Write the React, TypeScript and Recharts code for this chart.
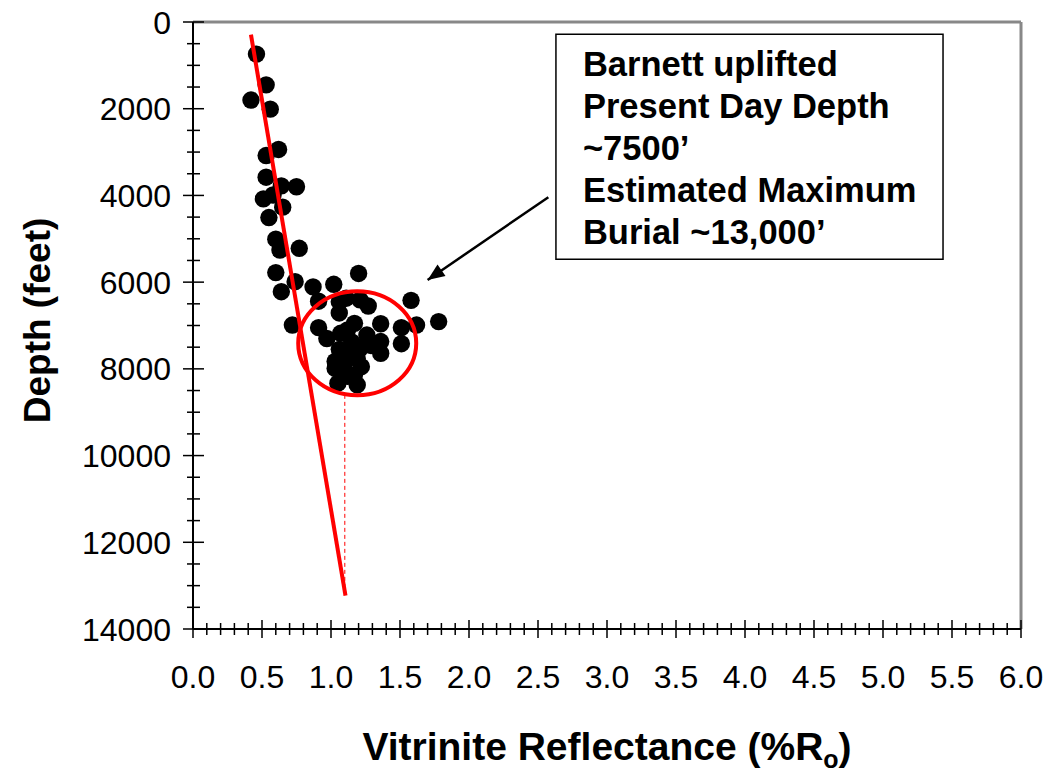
import React from 'react'
import {
  ScatterChart,
  Scatter,
  XAxis,
  YAxis,
  ReferenceLine,
  ReferenceArea,
} from 'recharts'

// vitrinite reflectance (%Ro) vs depth (ft)
const shallowSamples = [
  { ro: 0.46, depth: 740 },
  { ro: 0.53, depth: 1450 },
  { ro: 0.42, depth: 1800 },
  { ro: 0.56, depth: 2010 },
  { ro: 0.62, depth: 2940 },
  { ro: 0.53, depth: 3080 },
  { ro: 0.53, depth: 3580 },
  { ro: 0.64, depth: 3780 },
  { ro: 0.75, depth: 3800 },
  { ro: 0.58, depth: 3990 },
  { ro: 0.51, depth: 4080 },
  { ro: 0.65, depth: 4270 },
  { ro: 0.55, depth: 4510 },
  { ro: 0.6, depth: 5010 },
  { ro: 0.63, depth: 5260 },
  { ro: 0.77, depth: 5220 },
  { ro: 0.6, depth: 5780 },
  { ro: 0.74, depth: 5990 },
  { ro: 0.64, depth: 6220 },
  { ro: 0.72, depth: 6990 },
]

const clusterSamples = [
  { ro: 1.2, depth: 5800 },
  { ro: 0.87, depth: 6110 },
  { ro: 1.02, depth: 6050 },
  { ro: 0.91, depth: 6440 },
  { ro: 1.06, depth: 6450 },
  { ro: 1.21, depth: 6410 },
  { ro: 1.58, depth: 6420 },
  { ro: 1.27, depth: 6550 },
  { ro: 1.11, depth: 6370 },
  { ro: 1.06, depth: 6710 },
  { ro: 1.78, depth: 6910 },
  { ro: 0.91, depth: 7050 },
  { ro: 1.17, depth: 6950 },
  { ro: 1.12, depth: 7100 },
  { ro: 1.36, depth: 6960 },
  { ro: 1.51, depth: 7050 },
  { ro: 1.62, depth: 6990 },
  { ro: 0.97, depth: 7300 },
  { ro: 1.07, depth: 7180 },
  { ro: 1.15, depth: 7380 },
  { ro: 1.26, depth: 7220 },
  { ro: 1.29, depth: 7460 },
  { ro: 1.36, depth: 7370 },
  { ro: 1.51, depth: 7420 },
  { ro: 1.06, depth: 7550 },
  { ro: 1.21, depth: 7530 },
  { ro: 1.13, depth: 7660 },
  { ro: 1.36, depth: 7640 },
  { ro: 1.03, depth: 7830 },
  { ro: 1.19, depth: 7760 },
  { ro: 1.1, depth: 7860 },
  { ro: 1.22, depth: 7950 },
  { ro: 1.09, depth: 7990 },
  { ro: 1.03, depth: 7990 },
  { ro: 1.12, depth: 8170 },
  { ro: 1.17, depth: 8140 },
  { ro: 1.05, depth: 8330 },
  { ro: 1.19, depth: 8370 },
]

// hand-drawn trend line and annotations
const trendLine = [
  { ro: 0.42, depth: 290 },
  { ro: 1.105, depth: 13230 },
]
const maxBurialDrop = [
  { ro: 1.1, depth: 8600 },
  { ro: 1.1, depth: 13100 },
]
const circleCenter = [{ ro: 1.19, depth: 7410 }]
const arrowPoints = [
  { ro: 2.575, depth: 4040, head: false },
  { ro: 1.7, depth: 5950, head: true },
]
const noteBox = { ro1: 2.63, ro2: 5.435, depth1: 280, depth2: 5470 }
const noteLines = [
  'Barnett uplifted',
  'Present Day Depth',
  '~7500’',
  'Estimated Maximum',
  'Burial ~13,000’',
]

const yTicks = [0, 2000, 4000, 6000, 8000, 10000, 12000, 14000]
const xTicks = [0, 0.5, 1, 1.5, 2, 2.5, 3, 3.5, 4, 4.5, 5, 5.5, 6]
const yMinorStep = 500
const xMinorStep = 0.1

const yAllTicks = Array.from({ length: 14000 / yMinorStep + 1 }, (_, i) => i * yMinorStep)
const xAllTicks = Array.from({ length: 61 }, (_, i) => Number((i * xMinorStep).toFixed(1)))

const FONT = '"Liberation Sans", Arial, sans-serif'
const Y_MARGIN = 22
const X_MARGIN = 59

const YTick = (props: any) => {
  const { x, y, payload } = props
  const v = payload.value
  const major = yTicks.includes(v)
  const ax = x + Y_MARGIN
  return (
    <g>
      <line
        x1={ax - (major ? 10 : 6)}
        x2={ax + (major ? 11 : 7)}
        y1={y}
        y2={y}
        stroke="#000"
        strokeWidth={1.5}
      />
      {major && (
        <text x={x} y={y} dy="0.36em" textAnchor="end" fontSize={32} fontFamily={FONT} fill="#000">
          {v}
        </text>
      )}
    </g>
  )
}

const XTick = (props: any) => {
  const { x, y, payload } = props
  const v = payload.value
  const major = xTicks.some(t => Math.abs(t - v) < 1e-6)
  const ay = y - X_MARGIN
  return (
    <g>
      <line
        x1={x}
        x2={x}
        y1={ay - (major ? 9 : 6)}
        y2={ay + (major ? 9 : 6)}
        stroke="#000"
        strokeWidth={1.5}
      />
      {major && (
        <text x={x} y={y} textAnchor="middle" fontSize={32} fontFamily={FONT} fill="#000">
          {v.toFixed(1)}
        </text>
      )}
    </g>
  )
}

const Dot = (props: any) => <circle cx={props.cx} cy={props.cy} r={8.7} fill="#000" />
const NoShape = () => <g />

const Ellipse = (props: any) => (
  <ellipse cx={props.cx} cy={props.cy} rx={59} ry={52} fill="none" stroke="#ff0000" strokeWidth={4} />
)

const ARROW_ANGLE = Math.atan2(82, -117)
const ArrowHead = (props: any) => {
  if (!props.payload?.head) return <g />
  const { cx, cy } = props
  const len = 17
  const half = 7
  const bx = cx - len * Math.cos(ARROW_ANGLE)
  const by = cy - len * Math.sin(ARROW_ANGLE)
  const px = -Math.sin(ARROW_ANGLE) * half
  const py = Math.cos(ARROW_ANGLE) * half
  return <polygon points={`${cx},${cy} ${bx + px},${by + py} ${bx - px},${by - py}`} fill="#000" />
}

const NoteLabel = (props: any) => {
  const { x, y } = props.viewBox
  return (
    <text x={x + 27} y={y + 30} fontSize={34.5} fontWeight="bold" fontFamily={FONT} fill="#000">
      {noteLines.map((l, i) => (
        <tspan key={i} x={x + 27} dy={i === 0 ? '0.35em' : 42}>
          {l}
        </tspan>
      ))}
    </text>
  )
}

const YTitle = (props: any) => {
  const { x, y, height } = props.viewBox
  const cx = x + 37
  const cy = y + height / 2 - 5
  return (
    <text
      x={cx}
      y={cy}
      transform={`rotate(-90 ${cx} ${cy})`}
      textAnchor="middle"
      dominantBaseline="central"
      fontSize={37}
      fontWeight="bold"
      fontFamily={FONT}
      fill="#000"
    >
      Depth (feet)
    </text>
  )
}

const XTitle = (props: any) => {
  const { x, y, width } = props.viewBox
  return (
    <text
      x={x + width / 2}
      y={y + 131}
      textAnchor="middle"
      fontSize={39}
      fontWeight="bold"
      fontFamily={FONT}
      fill="#000"
    >
      Vitrinite Reflectance (%R
      <tspan fontSize={25} dy={8}>o</tspan>
      <tspan dy={-8}>)</tspan>
    </text>
  )
}

export default function App() {
  return (
    <div style={{ position: 'absolute', left: 0, top: 0, background: '#fff' }}>
      <ScatterChart width={1054} height={775} margin={{ top: 22, right: 33, left: 0, bottom: 0 }}>
        <XAxis
          type="number"
          dataKey="ro"
          domain={[0, 6]}
          ticks={xAllTicks}
          interval={0}
          tickSize={0}
          tickMargin={X_MARGIN}
          tick={<XTick />}
          axisLine={{ stroke: '#000', strokeWidth: 2 }}
          height={146}
          allowDataOverflow
          label={<XTitle />}
        />
        <YAxis
          type="number"
          dataKey="depth"
          domain={[0, 14000]}
          reversed
          ticks={yAllTicks}
          interval={0}
          tickSize={0}
          tickMargin={Y_MARGIN}
          tick={<YTick />}
          axisLine={{ stroke: '#000', strokeWidth: 2 }}
          width={193}
          allowDataOverflow
          label={<YTitle />}
        />
        <ReferenceLine y={0} stroke="#888" strokeWidth={3} />
        <ReferenceLine x={6} stroke="#888" strokeWidth={3} />
        <ReferenceArea
          x1={noteBox.ro1}
          x2={noteBox.ro2}
          y1={noteBox.depth1}
          y2={noteBox.depth2}
          fill="#fff"
          fillOpacity={1}
          stroke="#000"
          strokeWidth={1.5}
          label={<NoteLabel />}
        />
        <Scatter data={shallowSamples} shape={<Dot />} isAnimationActive={false} />
        <Scatter data={clusterSamples} shape={<Dot />} isAnimationActive={false} />
        <Scatter data={circleCenter} shape={<Ellipse />} isAnimationActive={false} />
        <Scatter
          data={trendLine}
          line={{ stroke: '#ff0000', strokeWidth: 4 }}
          shape={<NoShape />}
          isAnimationActive={false}
        />
        <Scatter
          data={maxBurialDrop}
          line={{ stroke: '#ff0000', strokeWidth: 1, strokeDasharray: '4 3' }}
          shape={<NoShape />}
          isAnimationActive={false}
        />
        <Scatter
          data={arrowPoints}
          line={{ stroke: '#000', strokeWidth: 2.5 }}
          shape={<ArrowHead />}
          isAnimationActive={false}
        />
      </ScatterChart>
    </div>
  )
}
